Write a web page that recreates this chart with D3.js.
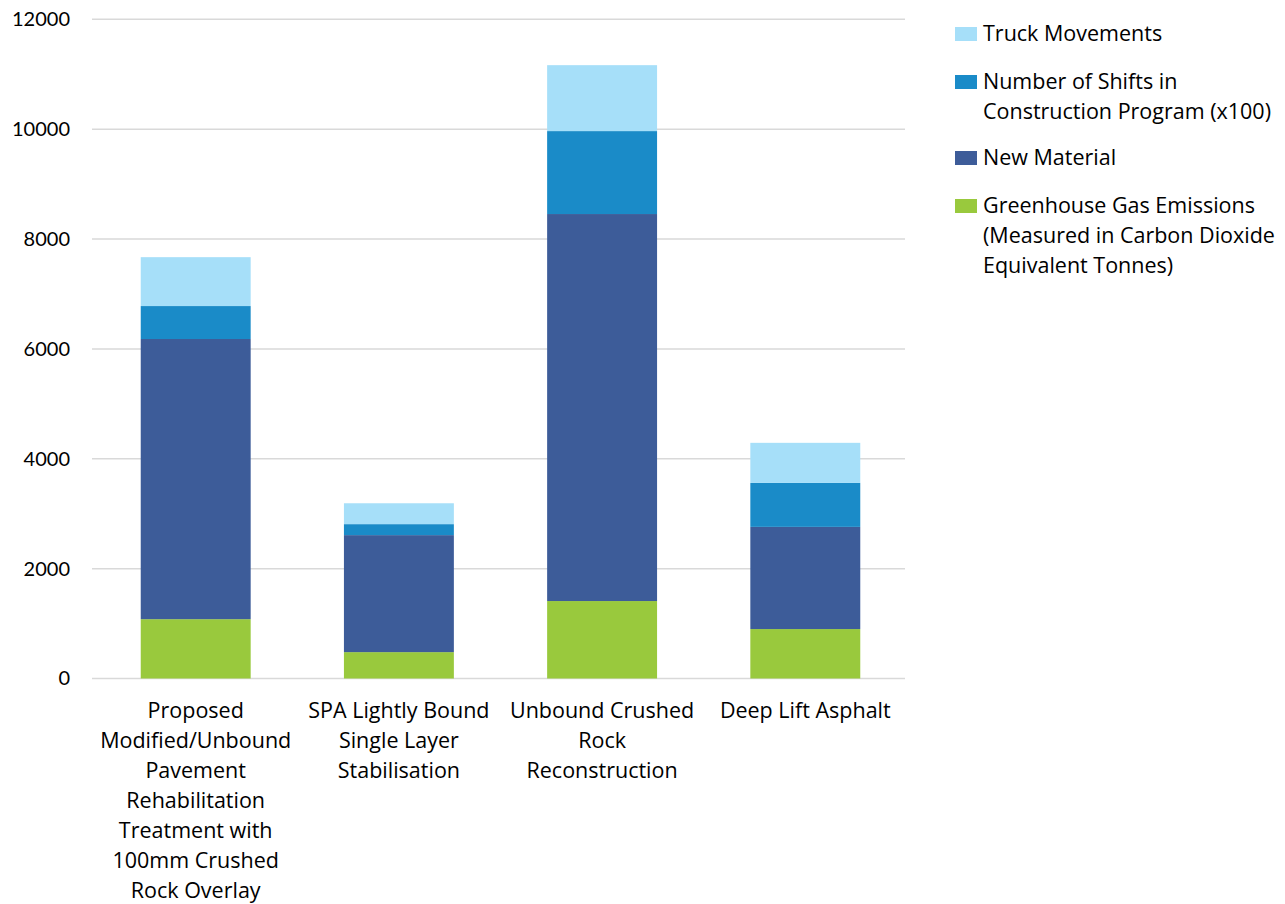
<!DOCTYPE html>
<html>
<head>
<meta charset="utf-8">
<script src="https://cdn.jsdelivr.net/npm/d3@7"></script>
<style>
  body { margin: 0; background: #fff; }
  text { font-family: "Open Sans", Lato, sans-serif; fill: #000; }
</style>
</head>
<body>
<div id="chart"></div>
<script>
// Data
const categories = [
    ["Proposed", "Modified/Unbound", "Pavement", "Rehabilitation", "Treatment with", "100mm Crushed", "Rock Overlay"],
    ["SPA Lightly Bound", "Single Layer", "Stabilisation"],
    ["Unbound Crushed", "Rock", "Reconstruction"],
    ["Deep Lift Asphalt"]
];
const greenhouse = [1080, 480, 1410, 900];
const newMaterial = [5100, 2130, 7045, 1860];
const shifts = [600, 200, 1510, 800];
const trucks = [890, 380, 1200, 730];
const yTicks = [0, 2000, 4000, 6000, 8000, 10000, 12000];

const seriesColors = ["#99c93d", "#3d5c99", "#1a8bc8", "#a6dff9"];
const legendItems = [
    { lines: ["Truck Movements"], color: "#a6dff9" },
    { lines: ["Number of Shifts in", "Construction Program (x100)"], color: "#1a8bc8" },
    { lines: ["New Material"], color: "#3d5c99" },
    { lines: ["Greenhouse Gas Emissions", "(Measured in Carbon Dioxide", "Equivalent Tonnes)"], color: "#99c93d" }
];

const width = 1285, height = 904;
const plot = { left: 92, right: 905, top: 19.3, bottom: 678.5 };
const labelSize = "21.5px";

const svg = d3.select("#chart").append("svg")
    .attr("width", width)
    .attr("height", height);

// Table for the stack
const table = categories.map((c, i) => ({
    idx: i,
    g: greenhouse[i], m: newMaterial[i], s: shifts[i], t: trucks[i]
}));
const stacked = d3.stack().keys(["g", "m", "s", "t"])(table);

const x = d3.scaleBand()
    .domain(d3.range(categories.length))
    .range([plot.left + 2, plot.right + 2])
    .paddingInner(0.459)
    .paddingOuter(0.23);

const y = d3.scaleLinear()
    .domain([0, 12000])
    .range([plot.bottom, plot.top]);

// Gridlines
svg.append("g").selectAll("line")
    .data(yTicks)
    .join("line")
        .attr("x1", plot.left)
        .attr("x2", plot.right)
        .attr("y1", d => y(d))
        .attr("y2", d => y(d))
        .style("stroke", "#d9d9d9")
        .style("stroke-width", 1.5);

// Y axis labels
const yAxis = svg.append("g")
    .attr("transform", "translate(" + 70 + ",0)")
    .call(d3.axisLeft(y).tickValues(yTicks).tickSize(0).tickPadding(0).tickFormat(d3.format("d")));
yAxis.select(".domain").remove();
yAxis.selectAll("text")
    .style("font-size", "20px")
    .style("font-family", "Lato, 'Open Sans', sans-serif")
    .attr("fill", "#000");

// Bars
svg.append("g").selectAll("g")
    .data(stacked)
    .join("g")
        .attr("fill", (d, i) => seriesColors[i])
    .selectAll("rect")
    .data(d => d)
    .join("rect")
        .attr("x", d => x(d.data.idx))
        .attr("y", d => y(d[1]))
        .attr("width", x.bandwidth())
        .attr("height", d => y(d[0]) - y(d[1]));

// Category labels
const catG = svg.append("g").selectAll("text")
    .data(categories)
    .join("text")
        .attr("x", (d, i) => x(i) + x.bandwidth() / 2)
        .attr("y", 718)
        .attr("text-anchor", "middle")
        .style("font-size", labelSize);
catG.selectAll("tspan")
    .data(d => d)
    .join("tspan")
        .attr("x", function() { return this.parentNode.getAttribute("x"); })
        .attr("dy", (d, i) => i === 0 ? 0 : 30)
        .text(d => d);

// Legend
const legendTops = [27, 75, 151, 199];
const legend = svg.append("g").selectAll("g")
    .data(legendItems)
    .join("g")
        .attr("transform", (d, i) => "translate(955," + legendTops[i] + ")");
legend.append("rect")
    .attr("width", 22)
    .attr("height", 14)
    .attr("fill", d => d.color);
const lt = legend.append("text")
    .attr("x", 28)
    .attr("y", 14)
    .style("font-size", labelSize);
lt.selectAll("tspan")
    .data(d => d.lines)
    .join("tspan")
        .attr("x", 28)
        .attr("dy", (d, i) => i === 0 ? 0 : 30)
        .text(d => d);
</script>
</body>
</html>
